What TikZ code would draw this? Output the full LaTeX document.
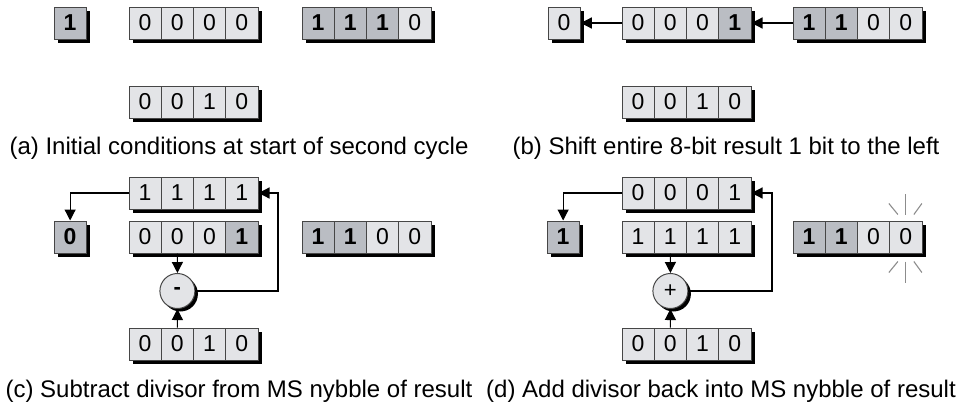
\documentclass[tikz,border=0pt]{standalone}
\usepackage{fontspec}
\setmainfont{Liberation Sans}
\usetikzlibrary{arrows.meta,positioning,calc,shadows}
\definecolor{cool}{RGB}{227,228,231}
\definecolor{hot}{RGB}{186,189,195}
\definecolor{rim}{RGB}{70,70,70}
\definecolor{glint}{RGB}{140,140,140}

% one register: name, left x, top y, list of bit/style
\newcommand{\nyb}[4]{%
  \foreach \b/\s [count=\i from 0] in {#4}
    \fill[black] ($(#2,#3)+(\i*32.25+4,4)$) rectangle ++(32.25,32);
  \foreach \b/\s [count=\i from 0] in {#4}
    \node[bit,\s] (#1-\i) at ($(#2,#3)+(\i*32.25+16.125,16)$) {\b};
}

\begin{document}
\begin{tikzpicture}[x=1pt,y=-1pt,
    bit/.style={draw=rim, fill=cool, line width=1pt, minimum width=32.25pt,
      minimum height=32pt, inner sep=0pt, font=\fontsize{23}{23}\selectfont},
    lo/.style={},
    hi/.style={fill=hot, font=\fontsize{23}{23}\selectfont\bfseries},
    sum/.style={circle, draw=rim, fill=cool, line width=1pt, minimum size=35pt,
      inner sep=0pt, font=\fontsize{22}{22}\selectfont,
      drop shadow={shadow xshift=3pt, shadow yshift=-3pt, fill=black, opacity=1}},
    arr/.style={-{Triangle[length=11pt,width=11pt]}, line width=1.2pt},
    legend/.style={font=\fontsize{24}{24}\selectfont},
    spark/.style={draw=glint, line width=1.1pt}]
  \useasboundingbox (0,0) rectangle (962,418);

  % (a)
  \nyb{aq}{54}{7}{1/hi}
  \nyb{ar}{129}{7}{0/lo,0/lo,0/lo,0/lo}
  \nyb{as}{302}{7}{1/hi,1/hi,1/hi,0/lo}
  \nyb{ad}{129}{86}{0/lo,0/lo,1/lo,0/lo}
  \node[legend] (acap) at (239,148) {(a) Initial conditions at start of second cycle};

  % (b)
  \nyb{bq}{548}{7}{0/lo}
  \nyb{br}{622}{7}{0/lo,0/lo,0/lo,1/hi}
  \nyb{bs}{793}{7}{1/hi,1/hi,0/lo,0/lo}
  \nyb{bd}{622}{86}{0/lo,0/lo,1/lo,0/lo}
  \draw[arr] (br-0.west) -- (bq-0.east);
  \draw[arr] (bs-0.west) -- (br-3.east);
  \node[legend] (bcap) at (726,148) {(b) Shift entire 8-bit result 1 bit to the left};

  % (c)
  \nyb{cr}{129}{177}{1/lo,1/lo,1/lo,1/lo}
  \nyb{cq}{54}{221}{0/hi}
  \nyb{cm}{129}{221}{0/lo,0/lo,0/lo,1/hi}
  \nyb{cs}{302}{221}{1/hi,1/hi,0/lo,0/lo}
  \nyb{cd}{129}{328}{0/lo,0/lo,1/lo,0/lo}
  \node[sum] (cop) at (177.4,291) {\bfseries -};
  \coordinate (cturn) at (278,193);
  \draw[arr] (cr-0.west) -| (cq-0.north);
  \draw[arr] (cm-1.south) -- (cop.north);
  \draw[arr] (cd-1.north) -- (cop.south);
  \draw[arr] (cop.east) -| (cturn) -- (cr-3.east);
  \node[legend] (ccap) at (239,391) {(c) Subtract divisor from MS nybble of result};

  % (d)
  \nyb{dr}{622}{177}{0/lo,0/lo,0/lo,1/lo}
  \nyb{dq}{547}{221}{1/hi}
  \nyb{dm}{622}{221}{1/lo,1/lo,1/lo,1/lo}
  \nyb{ds}{793}{221}{1/hi,1/hi,0/lo,0/lo}
  \nyb{dd}{622}{328}{0/lo,0/lo,1/lo,0/lo}
  \node[sum] (dop) at (670.4,291) {+};
  \coordinate (dturn) at (772,193);
  \draw[arr] (dr-0.west) -| (dq-0.north);
  \draw[arr] (dm-1.south) -- (dop.north);
  \draw[arr] (dd-1.north) -- (dop.south);
  \draw[arr] (dop.east) -| (dturn) -- (dr-3.east);
  % glints round the last bit
  \foreach \sx/\sy/\ex/\ey in {0/-6/0/-27, -8/-6/-17/-17, 8/-6/16/-17}
    \draw[spark] ($(ds-3.north)+(\sx,\sy)$) -- ($(ds-3.north)+(\ex,\ey)$);
  \foreach \sx/\sy/\ex/\ey in {0/8/0/29, -8/8/-17/19, 8/8/16/19}
    \draw[spark] ($(ds-3.south)+(\sx,\sy)$) -- ($(ds-3.south)+(\ex,\ey)$);
  \node[legend] (dcap) at (721,391) {(d) Add divisor back into MS nybble of result};
\end{tikzpicture}
\end{document}
